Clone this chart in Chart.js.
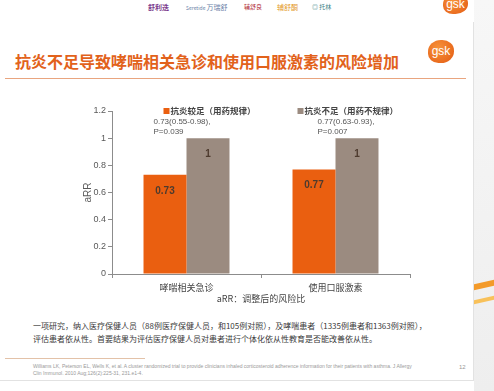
<!DOCTYPE html>
<html>
<head>
<meta charset="utf-8">
<script src="https://cdn.jsdelivr.net/npm/chart.js@4"></script>
<style>
  body { margin: 0; width: 494px; height: 391px; position: relative; overflow: hidden; background: #fff;
         font-family: "Liberation Sans", "Noto Sans CJK SC", sans-serif; }
  .abs { position: absolute; white-space: nowrap; }
  #side { left: 474px; top: 0; width: 20px; height: 391px; background: linear-gradient(#f7f7f7, #eeeeee); }
  #streak1 { left: 474px; top: 282px; width: 20px; height: 6px; background: #f39a2a; transform: skewY(-12deg); }
  #streak2 { left: 474px; top: 298px; width: 20px; height: 4px; background: #f8c15a; transform: skewY(-12deg); }
  #panel { left: 0; top: 22px; width: 473px; height: 358px; border-right: 1px solid #e2e2e2; border-bottom: 1px solid #e2e2e2; background: #fff; }
  #title { left: 15px; top: 49px; font-size: 16px; font-weight: bold; color: #e2621b; font-family: "Noto Sans CJK SC", sans-serif; }
  #rule { left: 5px; top: 78px; width: 461px; height: 1px; background: #e9a57f; }
  .gsk { border-radius: 50% 45% 50% 40%; background: radial-gradient(circle at 40% 35%, #f7923a, #e35a12); color: #fff;
         font-size: 12px; text-align: center; font-family: "Liberation Sans", sans-serif; }
  #notes { left: 33px; top: 319px; font-size: 8px; line-height: 13px; color: #3a3a3a; font-family: "Noto Sans CJK SC", sans-serif; }
  #fnrule { left: 5px; top: 358px; width: 140px; height: 1px; background: #e3c2a8; }
  #ref { left: 33px; top: 363px; font-size: 5px; line-height: 7px; color: #999; }
  #page { left: 459px; top: 364px; font-size: 6px; color: #999; }
  .logo { top: 2px; font-size: 5px; font-family: "Noto Sans CJK SC", sans-serif; }
  #chart { position: absolute; left: 76px; top: 90px; }
</style>
</head>
<body>
<div id="side" class="abs"></div>
<div id="streak1" class="abs"></div>
<div id="streak2" class="abs"></div>
<div id="panel" class="abs"></div>

<div class="abs logo" style="left:148px;color:#7b3a8c;font-size:7px;font-weight:bold;">舒利迭</div>
<div class="abs logo" style="left:186px;color:#6a7fa8;">Seretide <span style="font-size:7px">万瑞舒</span></div>
<div class="abs logo" style="left:244px;color:#b02a36;font-size:6px;">辅舒良</div>
<div class="abs logo" style="left:277px;color:#e39a2b;font-size:7px;">辅舒酮</div>
<div class="abs logo" style="left:312px;color:#3a7f86;font-size:6px;">◎ 托林</div>
<div class="abs gsk" style="left:443px;top:-6px;width:25px;height:20px;line-height:20px;">gsk</div>
<div class="abs gsk" style="left:428px;top:40px;width:26px;height:23px;line-height:22px;">gsk</div>

<div id="title" class="abs">抗炎不足导致哮喘相关急诊和使用口服激素的风险增加</div>
<div id="rule" class="abs"></div>

<canvas id="chart" width="344" height="220"></canvas>

<div id="notes" class="abs">一项研究，纳入医疗保健人员（88例医疗保健人员，和105例对照），及哮喘患者（1335例患者和1363例对照），<br>评估患者依从性。首要结果为评估医疗保健人员对患者进行个体化依从性教育是否能改善依从性。</div>
<div id="fnrule" class="abs"></div>
<div id="ref" class="abs">Williams LK, Peterson EL, Wells K, et al. A cluster randomized trial to provide clinicians inhaled corticosteroid adherence information for their patients with asthma. J Allergy<br>Clin Immunol. 2010 Aug;126(2):225-31, 231.e1-4.</div>
<div id="page" class="abs">12</div>

<script>
const categories = ['哮喘相关急诊', '使用口服激素'];
const seriesNames = ['抗炎较足（用药规律）', '抗炎不足（用药不规律）'];
const adequateValues = [0.73, 0.77];
const inadequateValues = [1, 1];
const ciLabels = [['0.73(0.55-0.98),', 'P=0.039'], ['0.77(0.63-0.93),', 'P=0.007']];
const yTicks = [0, 0.2, 0.4, 0.6, 0.8, 1, 1.2];
const colorSet = ['#ea5f10', '#9b8b80'];

// labels inside the bars, near the top
const barLabels = {
    id: 'barLabels',
    afterDatasetsDraw(chart) {
        const ctx = chart.ctx;
        ctx.save();
        ctx.font = 'bold 10px "Liberation Sans", sans-serif';
        ctx.fillStyle = '#4e3b2e';
        ctx.textAlign = 'center';
        ctx.textBaseline = 'middle';
        chart.data.datasets.forEach((ds, i) => {
            chart.getDatasetMeta(i).data.forEach((bar, j) => {
                ctx.fillText(String(ds.data[j]), bar.x, bar.y + 16);
            });
        });
        ctx.restore();
    }
};

// legend items and CI notes placed over each category
const notes = {
    id: 'notes',
    afterDraw(chart) {
        const ctx = chart.ctx;
        const x = chart.scales.x;
        const top = chart.chartArea.top;
        const legendShift = [-23, -38];
        const ciShift = [-33, -18];
        ctx.save();
        ctx.textBaseline = 'middle';
        chart.data.datasets.forEach((ds, i) => {
            const lx = x.getPixelForValue(i) + legendShift[i];
            ctx.fillStyle = ds.backgroundColor;
            ctx.fillRect(lx, top - 3, 6, 6);
            ctx.fillStyle = '#444';
            ctx.font = 'bold 8.5px "Noto Sans CJK SC", sans-serif';
            ctx.fillText(ds.label, lx + 7, top);
        });
        ctx.font = '8px "Liberation Sans", sans-serif';
        ctx.fillStyle = '#555';
        ciLabels.forEach((lines, i) => {
            const cx = x.getPixelForValue(i) + ciShift[i];
            lines.forEach((t, k) => ctx.fillText(t, cx, top + 11 + k * 10));
        });
        ctx.restore();
    }
};

new Chart(document.getElementById('chart'), {
    type: 'bar',
    data: {
        labels: categories,
        datasets: [
            { label: seriesNames[0], data: adequateValues, backgroundColor: colorSet[0] },
            { label: seriesNames[1], data: inadequateValues, backgroundColor: colorSet[1] }
        ]
    },
    options: {
        responsive: false,
        animation: false,
        layout: { padding: { top: 21, right: 10, left: 0, bottom: 0 } },
        datasets: { bar: { categoryPercentage: 0.577, barPercentage: 1 } },
        scales: {
            x: {
                grid: { drawOnChartArea: false, offset: true, tickLength: 4, color: '#8c8c8c' },
                border: { color: '#8c8c8c' },
                ticks: { color: '#444', padding: 4, font: { size: 9, family: '"Noto Sans CJK SC", sans-serif' } },
                title: { display: true, text: 'aRR：调整后的风险比', color: '#444', padding: { top: 0, bottom: 6 },
                         font: { size: 9, family: '"Noto Sans CJK SC", sans-serif' } },
                afterFit(s) { s.height = 36; }
            },
            y: {
                min: 0,
                max: 1.2,
                afterBuildTicks(s) { s.ticks = yTicks.map(v => ({ value: v })); },
                grid: { drawOnChartArea: false, tickLength: 4, color: '#8c8c8c' },
                border: { color: '#8c8c8c' },
                ticks: { color: '#595959', padding: 2, font: { size: 9 }, callback: v => String(v) },
                title: { display: true, text: 'aRR', color: '#595959', padding: { top: 6, bottom: 0 }, font: { size: 10 } },
                afterFit(s) { s.width = 36; }
            }
        },
        plugins: {
            legend: { display: false },
            tooltip: { enabled: false }
        }
    },
    plugins: [barLabels, notes]
});
</script>
</body>
</html>
